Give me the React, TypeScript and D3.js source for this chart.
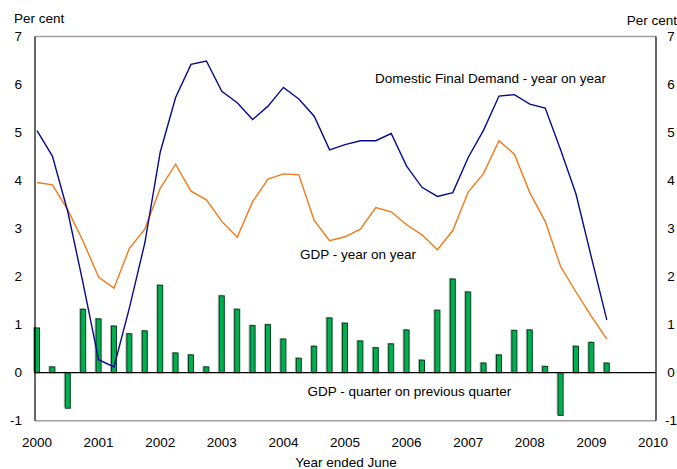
import React from "react";
import * as d3 from "d3";

const startYear = 2000;
const yearTicks = [2000, 2001, 2002, 2003, 2004, 2005, 2006, 2007, 2008, 2009, 2010];
const valueTicks = [-1, 0, 1, 2, 3, 4, 5, 6, 7];

const dfdYoY = [5.04, 4.51, 3.35, 1.85, 0.27, 0.12, 1.35, 2.70, 4.59, 5.73, 6.42, 6.49, 5.86, 5.62, 5.27, 5.55, 5.94, 5.70, 5.34, 4.64, 4.75, 4.83, 4.83, 4.98, 4.30, 3.86, 3.67, 3.75, 4.48, 5.05, 5.76, 5.79, 5.59, 5.51, 4.64, 3.72, 2.40, 1.10];
const gdpYoY = [3.96, 3.91, 3.39, 2.73, 1.99, 1.76, 2.59, 2.99, 3.84, 4.34, 3.78, 3.60, 3.15, 2.82, 3.56, 4.03, 4.14, 4.12, 3.17, 2.75, 2.83, 2.99, 3.44, 3.35, 3.08, 2.87, 2.56, 2.96, 3.76, 4.15, 4.83, 4.55, 3.75, 3.15, 2.21, 1.68, 1.17, 0.70];
const gdpQoQ = [0.93, 0.12, -0.74, 1.32, 1.12, 0.97, 0.81, 0.87, 1.82, 0.41, 0.37, 0.12, 1.60, 1.32, 0.98, 1.00, 0.70, 0.30, 0.55, 1.14, 1.03, 0.66, 0.52, 0.60, 0.89, 0.26, 1.30, 1.95, 1.68, 0.20, 0.37, 0.88, 0.89, 0.13, -0.89, 0.55, 0.63, 0.20];

const W = 677;
const H = 469;
const FONT = "'Liberation Sans', Arial, sans-serif";
const FS = 13.5;

export default function App() {
  const x = d3.scaleLinear().domain([2000, 2010]).range([37, 653]);
  const y = d3.scaleLinear().domain([-1, 7]).range([420.7, 36.5]);
  const plotL = 35;
  const plotR = 656;
  const qx = (i: number) => x(startYear + i * 0.25);

  const line = d3
    .line<number>()
    .x((_, i) => qx(i))
    .y((d) => y(d));

  const barW = 5;

  return (
    <svg
      width={W}
      height={H}
      style={{ position: "absolute", left: 0, top: 0, background: "#fff" }}
      fontFamily={FONT}
    >
      {/* frame */}
      <line x1={plotL} x2={plotR} y1={y(7)} y2={y(7)} stroke="#a0a0a0" strokeWidth={1.5} />
      <line x1={plotL} x2={plotR} y1={y(-1)} y2={y(-1)} stroke="#a0a0a0" strokeWidth={1.5} />

      {/* bars with shadow */}
      {gdpQoQ.map((v, i) => {
        const cx = qx(i);
        const y0 = y(0);
        const y1 = y(v);
        const top = Math.min(y0, y1);
        const h = Math.abs(y1 - y0);
        return (
          <g key={i}>
            <rect x={cx - barW / 2 - 1.5} y={top - 1} width={barW} height={h} fill="#b4b4b4" />
            <rect
              x={cx - barW / 2}
              y={top}
              width={barW}
              height={h}
              fill="#00b050"
              stroke="#00441b"
              strokeWidth={1}
            />
          </g>
        );
      })}

      {/* zero line */}
      <line x1={plotL} x2={plotR} y1={y(0)} y2={y(0)} stroke="#000" strokeWidth={1.2} />

      {/* lines */}
      <path d={line(gdpYoY) || ""} fill="none" stroke="#f07a1a" strokeWidth={1.4} />
      <path d={line(dfdYoY) || ""} fill="none" stroke="#0a0a8c" strokeWidth={1.4} />

      {/* axes */}
      <line x1={plotL} x2={plotL} y1={y(7)} y2={y(-1)} stroke="#000" strokeWidth={1.2} />
      <line x1={plotR} x2={plotR} y1={y(7)} y2={y(-1)} stroke="#000" strokeWidth={1.2} />

      {valueTicks.map((t) => (
        <g key={t} fontSize={FS} fill="#000">
          <text x={22} y={y(t)} dy="0.35em" textAnchor="end">
            {t}
          </text>
          <text x={671} y={y(t)} dy="0.35em" textAnchor="middle">
            {t}
          </text>
        </g>
      ))}

      {yearTicks.map((t) => (
        <text key={t} x={x(t)} y={446.5} textAnchor="middle" fontSize={FS} fill="#000">
          {t}
        </text>
      ))}

      <text x={14} y={23} fontSize={FS} fill="#000">Per cent</text>
      <text x={677} y={25} fontSize={FS} fill="#000" textAnchor="end">Per cent</text>
      <text x={346} y={467} fontSize={FS} fill="#000" textAnchor="middle">Year ended June</text>

      <text x={375} y={83} fontSize={FS} fill="#000">Domestic Final Demand - year on year</text>
      <text x={300} y={259} fontSize={FS} fill="#000">GDP - year on year</text>
      <text x={307.5} y={396} fontSize={FS} fill="#000">GDP - quarter on previous quarter</text>
    </svg>
  );
}
